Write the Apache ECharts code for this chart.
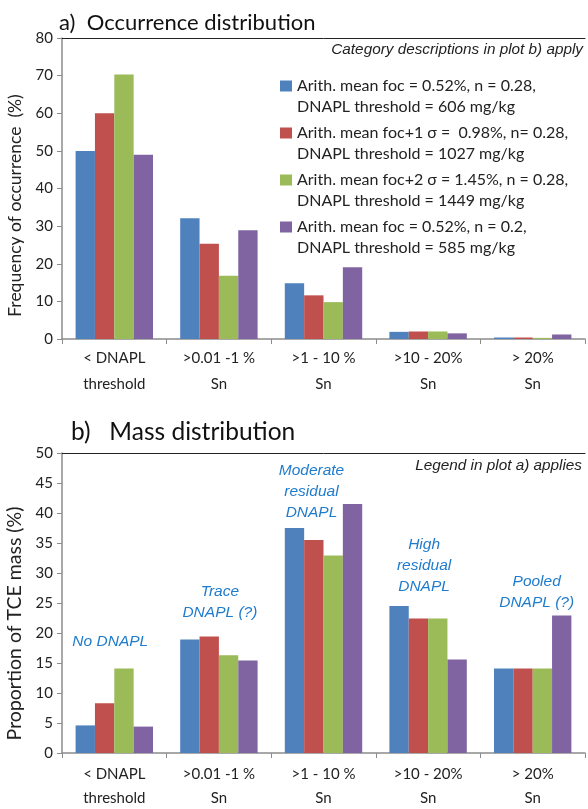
<!DOCTYPE html>
<html>
<head>
<meta charset="utf-8">
<script src="https://cdn.jsdelivr.net/npm/echarts@6/dist/echarts.min.js"></script>
<style>
  html, body { margin: 0; padding: 0; background: #fff; }
  #main { width: 588px; height: 809px; }
</style>
</head>
<body>
<div id="main"></div>
<script>
// 类别和数据
var categories = ['< DNAPL\nthreshold', '>0.01 -1 %\nSn', '>1 - 10 %\nSn', '>10 - 20%\nSn', '> 20%\nSn'];
var seriesNames = [
    'Arith. mean foc = 0.52%, n = 0.28,\nDNAPL threshold = 606 mg/kg',
    'Arith. mean foc+1 σ =  0.98%, n= 0.28,\nDNAPL threshold = 1027 mg/kg',
    'Arith. mean foc+2 σ = 1.45%, n = 0.28,\nDNAPL threshold = 1449 mg/kg',
    'Arith. mean foc = 0.52%, n = 0.2,\nDNAPL threshold = 585 mg/kg'
];
var colors = ['#4f81bd', '#c0504d', '#9bbb59', '#8064a2'];

// a) 出现频率 (%)
var occBlue = [50, 32.1, 14.8, 1.9, 0.4];
var occRed = [60, 25.3, 11.6, 2.0, 0.4];
var occGreen = [70.3, 16.8, 9.8, 2.0, 0.3];
var occPurple = [49, 28.9, 19.1, 1.5, 1.2];

// b) TCE质量比例 (%)
var massBlue = [4.6, 18.9, 37.5, 24.5, 14.1];
var massRed = [8.3, 19.4, 35.5, 22.4, 14.1];
var massGreen = [14.1, 16.3, 32.9, 22.4, 14.1];
var massPurple = [4.4, 15.4, 41.5, 15.6, 22.9];

// 坐标轴刻度
var occTicks = [0, 80, 10];
var massTicks = [0, 50, 5];

// 图中蓝色注释
var noteTexts = ['No DNAPL', 'Trace\nDNAPL (?)', 'Moderate\nresidual\nDNAPL', 'High\nresidual\nDNAPL', 'Pooled\nDNAPL (?)'];
var noteLevels = [18.5, 25.2, 43.5, 31.2, 26.8];

var myChart = echarts.init(document.getElementById('main'));

var font = 'Lato, "Open Sans", sans-serif';
var italicFont = '"Liberation Sans", Arial, sans-serif';
var axisGray = '#8c8c8c';

function catAxis(grid, margin, lineHeight) {
    return {
        type: 'category',
        gridIndex: grid,
        data: categories,
        boundaryGap: true,
        axisLine: { show: true, lineStyle: { color: axisGray, width: 1.5 } },
        axisTick: { show: true, length: 5, lineStyle: { color: axisGray } },
        axisLabel: { interval: 0, color: '#222', fontFamily: font, fontSize: 15, lineHeight: lineHeight, margin: margin }
    };
}

function borderAxis(grid) {
    return {
        type: 'category',
        gridIndex: grid,
        position: 'top',
        data: categories,
        axisLine: { show: true, lineStyle: { color: '#222', width: 1 } },
        axisTick: { show: false },
        axisLabel: { show: false }
    };
}

function valAxis(grid, ticks, name, size, pad) {
    return {
        type: 'value',
        gridIndex: grid,
        min: ticks[0],
        max: ticks[1],
        interval: ticks[2],
        name: name,
        nameLocation: 'middle',
        nameGap: 36,
        nameTextStyle: { color: '#222', fontFamily: font, fontSize: size, padding: [0, pad, 0, 0] },
        splitLine: { show: false },
        axisLine: { show: true, lineStyle: { color: axisGray, width: 1.5 } },
        axisTick: { show: true, length: 5, lineStyle: { color: axisGray } },
        axisLabel: { color: '#222', fontFamily: font, fontSize: 15, margin: 9 }
    };
}

function barSeries(i, data, xi, yi) {
    return {
        name: seriesNames[i],
        type: 'bar',
        xAxisIndex: xi,
        yAxisIndex: yi,
        data: data,
        barGap: '0%',
        barCategoryGap: '26%',
        itemStyle: { color: colors[i] }
    };
}

// markPoint 挂在蓝色柱上, 所以横向偏移要补回到类别中心
var noteOffsets = [25, 30, 17, 25, 33];
var notes = noteTexts.map(function (t, i) {
    return {
        coord: [i, noteLevels[i]],
        label: { formatter: t, offset: [noteOffsets[i], 0] }
    };
});

var massSeries = [massBlue, massRed, massGreen, massPurple].map(function (d, i) {
    return barSeries(i, d, 1, 1);
});
massSeries[0].markPoint = {
    symbol: 'circle',
    symbolSize: 0,
    silent: true,
    label: {
        show: true,
        position: 'inside',
        color: '#1f7bcc',
        fontStyle: 'italic',
        fontFamily: italicFont,
        fontSize: 15.5,
        lineHeight: 21
    },
    data: notes
};

var option = {
    animation: false,
    color: colors,
    title: [
        {
            text: 'a)  Occurrence distribution',
            left: 59, top: 12, padding: 0,
            textStyle: { fontFamily: font, fontWeight: 'normal', fontSize: 22, color: '#111' }
        },
        {
            text: 'b)   Mass distribution',
            left: 71, top: 420, padding: 0,
            textStyle: { fontFamily: font, fontWeight: 'normal', fontSize: 24.5, color: '#111' }
        },
        {
            text: 'Category descriptions in plot b) apply',
            right: 5, top: 42, padding: 0,
            textStyle: { fontFamily: italicFont, fontStyle: 'italic', fontWeight: 'normal', fontSize: 15.3, color: '#222' }
        },
        {
            text: 'Legend in plot a) applies',
            right: 6, top: 458, padding: 0,
            textStyle: { fontFamily: italicFont, fontStyle: 'italic', fontWeight: 'normal', fontSize: 15.3, color: '#222' }
        }
    ],
    legend: {
        data: seriesNames,
        orient: 'vertical',
        left: 280,
        top: 75,
        padding: 0,
        itemWidth: 12,
        itemHeight: 32,
        itemGap: 4,
        selectedMode: false,
        // 方块对齐第一行文字
        icon: 'path://M0,0L12,0L12,11L0,11Z M11.9,31.9L12,31.9L12,32L11.9,32Z',
        textStyle: { color: '#222', fontFamily: font, fontSize: 16, lineHeight: 21.5 }
    },
    grid: [
        { left: 62, right: 3, top: 38, height: 301, outerBoundsMode: 'none' },
        { left: 62, right: 3, top: 453, height: 300, outerBoundsMode: 'none' }
    ],
    xAxis: [catAxis(0, 6, 26), catAxis(1, 9, 24), borderAxis(0), borderAxis(1)],
    yAxis: [
        valAxis(0, occTicks, 'Frequency of occurrence  (%)', 17.5, 34),
        valAxis(1, massTicks, 'Proportion of TCE mass (%)', 19.5, 41)
    ],
    series: [occBlue, occRed, occGreen, occPurple].map(function (d, i) {
        return barSeries(i, d, 0, 0);
    }).concat(massSeries)
};

myChart.setOption(option);
window.addEventListener('resize', function () {
    myChart.resize();
});
</script>
</body>
</html>
